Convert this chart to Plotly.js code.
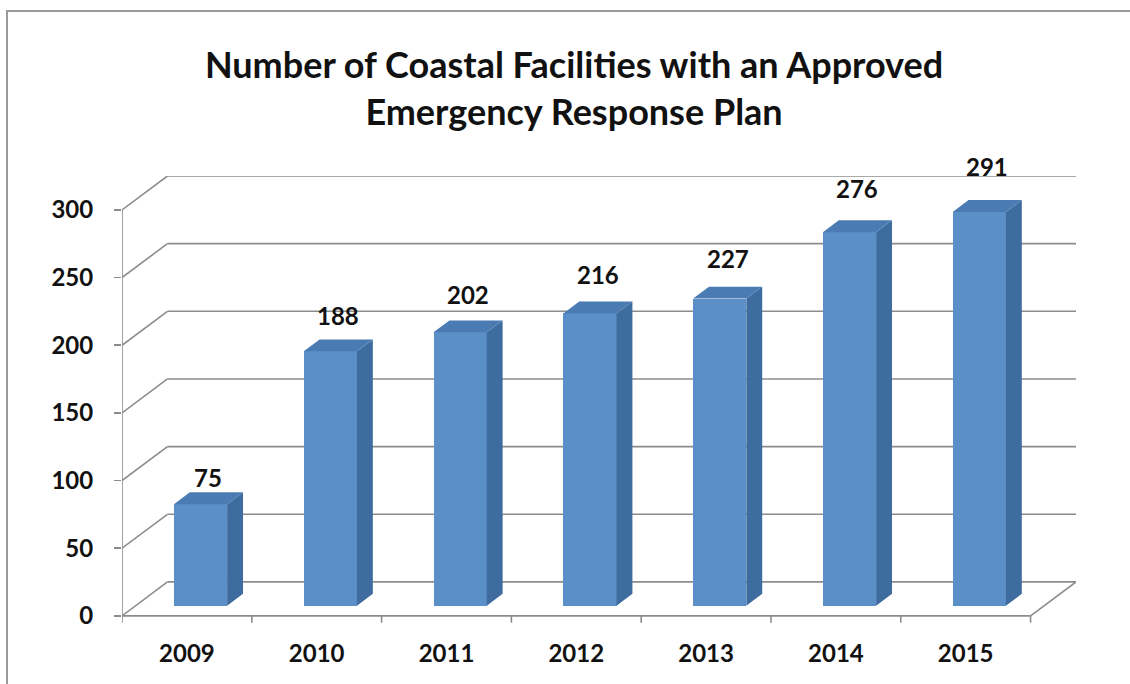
<!DOCTYPE html>
<html>
<head>
<meta charset="utf-8">
<script src="https://cdn.plot.ly/plotly-3.0.1.min.js"></script>
<style>
  html, body { margin: 0; padding: 0; background: #fff; }
  #wrap { position: relative; width: 1130px; height: 684px; overflow: hidden; }
  #chart { position: absolute; left: 0; top: 0; width: 1130px; height: 684px; }
  #frame { position: absolute; left: 6px; top: 10px; width: 1200px; height: 800px;
           border-left: 2px solid #9a9a9a; border-top: 2px solid #9a9a9a; pointer-events: none; }
</style>
</head>
<body>
<div id="wrap">
  <div id="chart"></div>
  <div id="frame"></div>
</div>
<script>
// ---- data ----
const years = ["2009", "2010", "2011", "2012", "2013", "2014", "2015"];
const facilities = [75, 188, 202, 216, 227, 276, 291];
const yTicks = [0, 50, 100, 150, 200, 250, 300];
const chartTitle = "Number of Coastal Facilities with an Approved<br>Emergency Response Plan";

// ---- 3D style parameters ----
const DX = 0.35;     // depth offset in category units
const DY = 25.1;     // depth offset in value units
const F = 0.30;      // depth position of bar front face (0..1)
const B = 0.35;      // bar depth (fraction)
const W = 0.41;      // bar width (category units)
const LABEL_K = 0.065, LABEL_C = 14.5;  // label gap above the bar (value units)
const yMax = yTicks[yTicks.length - 1];
const n = years.length;
const idx = years.map((_, i) => i);

const MARGIN = { l: 122, r: 54, t: 176, b: 60 };
const Y_RANGE = [-6, yMax + DY];
const PX_PER_UNIT = (684 - MARGIN.t - MARGIN.b) / (Y_RANGE[1] - Y_RANGE[0]);

const FONT = "Lato, 'Open Sans', 'DejaVu Sans', sans-serif";
const gridColor = "#8c8c8c";

// front faces as a real bar trace
const frontTrace = {
  type: "bar",
  x: idx.map(i => i + F * DX),
  y: facilities,
  base: facilities.map(() => F * DY),
  width: W,
  marker: { color: "#5b8fc8", line: { width: 0 } },
  hoverinfo: "skip",
  showlegend: false
};

// side and top faces built from the values
const sideX = [], sideY = [], topX = [], topY = [];
facilities.forEach((v, i) => {
  const xl = i - W / 2, xr = i + W / 2;
  const d0 = F, d1 = F + B;
  sideX.push(xr + d0 * DX, xr + d1 * DX, xr + d1 * DX, xr + d0 * DX, xr + d0 * DX, null);
  sideY.push(d0 * DY, d1 * DY, v + d1 * DY, v + d0 * DY, d0 * DY, null);
  topX.push(xl + d0 * DX, xr + d0 * DX, xr + d1 * DX, xl + d1 * DX, xl + d0 * DX, null);
  topY.push(v + d0 * DY, v + d0 * DY, v + d1 * DY, v + d1 * DY, v + d0 * DY, null);
});
const sideTrace = {
  type: "scatter", mode: "lines", x: sideX, y: sideY, fill: "toself",
  fillcolor: "#3f6c9f", line: { width: 0, color: "#3f6c9f" },
  hoverinfo: "skip", showlegend: false
};
const topTrace = {
  type: "scatter", mode: "lines", x: topX, y: topY, fill: "toself",
  fillcolor: "#4a7bb2", line: { width: 0, color: "#4a7bb2" },
  hoverinfo: "skip", showlegend: false
};

// data labels: anchored at the bar's front top edge, shifted up in pixels
const annotations = facilities.map((v, i) => ({
  xref: "x", yref: "y",
  x: i + (F + B / 2) * DX,
  y: v + F * DY,
  yshift: (v * LABEL_K + LABEL_C) * PX_PER_UNIT,
  text: String(v),
  showarrow: false,
  xanchor: "center", yanchor: "middle",
  font: { family: FONT, size: 24, color: "#111", weight: "bold" }
}));

// walls / gridlines
const shapes = [];
const L = -0.5, R = n - 0.5;
const ln = { color: gridColor, width: 1.6 };
yTicks.forEach(t => {
  shapes.push({ type: "line", layer: "below", xref: "x", yref: "y",
    x0: L + DX, y0: t + DY, x1: R + DX, y1: t + DY, line: ln });
  shapes.push({ type: "line", layer: "below", xref: "x", yref: "y",
    x0: L, y0: t, x1: L + DX, y1: t + DY, line: ln });
});
// floor front edge and right depth edge
shapes.push({ type: "line", layer: "below", xref: "x", yref: "y", x0: L, y0: 0, x1: R, y1: 0, line: ln });
shapes.push({ type: "line", layer: "below", xref: "x", yref: "y", x0: R, y0: 0, x1: R + DX, y1: DY, line: ln });
// front vertical value axis
shapes.push({ type: "line", layer: "below", xref: "x", yref: "y", x0: L, y0: 0, x1: L, y1: yMax, line: ln });
// category boundary ticks
for (let k = 0; k <= n; k++) {
  shapes.push({ type: "line", layer: "below", xref: "x", yref: "y",
    x0: k - 0.5, y0: 0, x1: k - 0.5, y1: -5, line: ln });
}

const layout = {
  width: 1130, height: 684,
  paper_bgcolor: "#fff", plot_bgcolor: "#fff",
  margin: MARGIN,
  title: {
    text: chartTitle,
    font: { family: FONT, size: 36, color: "#111", weight: "bold" },
    x: 0.508, xanchor: "center", xref: "container",
    y: 1 - 78 / 684, yanchor: "middle", yref: "container"
  },
  xaxis: {
    range: [L, R + DX],
    tickvals: idx, ticktext: years,
    showgrid: false, zeroline: false, showline: false,
    ticks: "", ticklabelstandoff: 13,
    tickfont: { family: FONT, size: 24, color: "#111", weight: "bold" },
    fixedrange: true
  },
  yaxis: {
    range: Y_RANGE,
    tickvals: yTicks, ticktext: yTicks.map(String),
    showgrid: false, zeroline: false, showline: false,
    ticks: "outside", ticklen: 7, tickwidth: 1.6, tickcolor: gridColor,
    ticklabelstandoff: 16,
    tickfont: { family: FONT, size: 24, color: "#111", weight: "bold" },
    fixedrange: true
  },
  shapes: shapes,
  annotations: annotations,
  showlegend: false,
  bargap: 0
};

Plotly.newPlot("chart", [frontTrace, sideTrace, topTrace], layout,
  { displayModeBar: false, staticPlot: true });
</script>
</body>
</html>
